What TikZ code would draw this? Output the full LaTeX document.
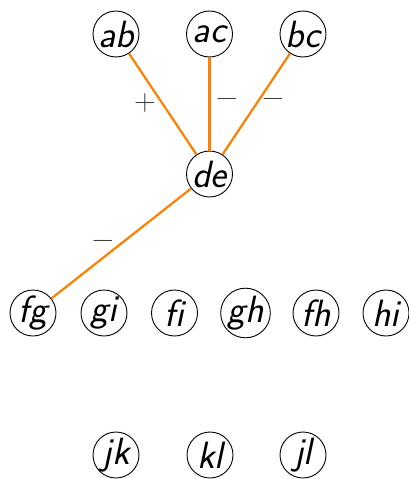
\documentclass[tikz,border=0pt]{standalone}
\usepackage{fontspec}
\begin{document}
\begin{tikzpicture}[x=1pt,y=-1pt,
  vert/.style={circle,draw,line width=0.9pt,minimum size=46pt,inner sep=0pt,font=\fontsize{38}{44}\selectfont\sffamily\slshape},
  edge/.style={draw=orange,line width=2.2pt},
  sign/.style={text=black!75,inner sep=0pt,font=\fontsize{30}{36}\selectfont}]
\useasboundingbox (0,0) rectangle (408,479);
\node[vert] (ab) at (116,34) {ab};
\node[vert] (ac) at (209.5,34) {ac};
\node[vert] (bc) at (303,34) {bc};
\node[vert] (de) at (209.5,174) {de};
\node[vert] (fg) at (33,313) {fg};
\node[vert] (gi) at (104,313) {gi};
\node[vert] (fi) at (174.5,313) {f\kern0pt i};
\node[vert] (gh) at (245.5,313) {gh};
\node[vert] (fh) at (316,313) {fh};
\node[vert] (hi) at (386,313) {hi};
\node[vert] (jk) at (116,455) {jk};
\node[vert] (kl) at (210,455) {kl};
\node[vert] (jl) at (303,455) {jl};
\draw[edge] (ab) -- (de);
\draw[edge] (ac) -- (de);
\draw[edge] (bc) -- (de);
\draw[edge] (de) -- (fg);
\node[sign] (s1) at (145,103) {+};
\node[sign] (s2) at (227,102) {−};
\node[sign] (s3) at (273,102) {−};
\node[sign] (s4) at (103,244) {−};
\end{tikzpicture}
\end{document}
